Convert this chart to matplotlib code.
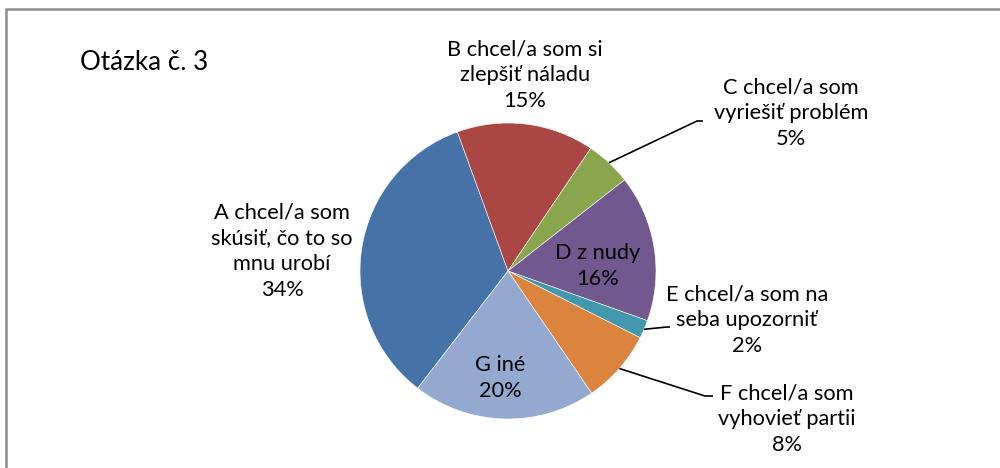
import matplotlib.pyplot as plt
from matplotlib.patches import Rectangle
import numpy as np

labels = ["A chcel/a som\nskúsiť, čo to so\nmnu urobí",
          "B chcel/a som si\nzlepšiť náladu",
          "C chcel/a som\nvyriešiť problém",
          "D z nudy",
          "E chcel/a som na\nseba upozorniť",
          "F chcel/a som\nvyhovieť partii",
          "G iné"]
values = [34, 15, 5, 16, 2, 8, 20]
colors = ["#4572A7", "#AA4643", "#89A54E", "#71588F", "#4198AF", "#DB843D", "#93A9CF"]

# label centers in pixel coords (x, y from top)
label_pos = [(282, 251), (525, 75), (791, 113), (598, 266), (747, 320), (787, 419), (500, 378)]
# elbow points for leader lines (None = no leader)
elbows = [None, None, (697, 121), None, (667, 327), (705, 396), None]
line_ends = [None, None, (703, 121), None, (670, 327), (713, 396), None]

W, H = 1000, 468
plt.rcParams['font.family'] = ['Lato', 'DejaVu Sans']

fig = plt.figure(figsize=(10, 4.68), dpi=100)
ax = fig.add_axes([0, 0, 1, 1])

cx, cy, r = 508, H - 271, 148
wedges, _ = ax.pie(values, colors=colors, startangle=232.4, counterclock=False,
                   center=(cx, cy), radius=r, frame=True,
                   wedgeprops=dict(edgecolor='white', linewidth=0.4))
ax.set_xlim(0, W)
ax.set_ylim(0, H)
ax.axis('off')

for i, w in enumerate(wedges):
    txt = f"{labels[i]}\n{values[i]}%"
    x, y = label_pos[i]
    ax.text(x, H - y, txt, ha='center', va='center', fontsize=15.7,
            linespacing=1.37, color='black')
    if elbows[i] is not None:
        mid = np.deg2rad((w.theta1 + w.theta2) / 2)
        px = cx + r * np.cos(mid)
        py = cy + r * np.sin(mid)
        ex, ey = elbows[i]
        lx, ly = line_ends[i]
        ax.plot([px, ex, lx], [py, H - ey, H - ly], color='black', lw=1.2,
                solid_capstyle='butt')

ax.text(80, H - 62, "Otázka č. 3", ha='left', va='center', fontsize=18.7, color='black')

ax.add_patch(Rectangle((6, -20), W + 20, H - 9 + 20, fill=False,
                       edgecolor='#8c8c8c', linewidth=1.8, clip_on=False))

fig.savefig("out.png", dpi=100)
